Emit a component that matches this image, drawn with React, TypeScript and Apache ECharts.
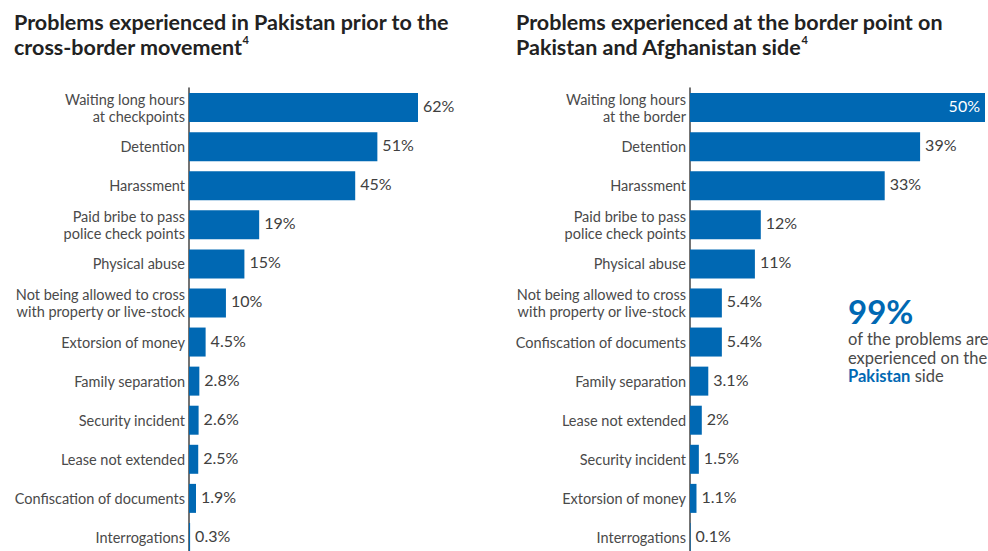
import React, { useEffect, useRef } from "react";
import * as echarts from "echarts";

const leftCategories = [
  "Waiting long hours\nat checkpoints",
  "Detention",
  "Harassment",
  "Paid bribe to pass\npolice check points",
  "Physical abuse",
  "Not being allowed to cross\nwith property or live-stock",
  "Extorsion of money",
  "Family separation",
  "Security incident",
  "Lease not extended",
  "Confiscation of documents",
  "Interrogations",
];
const leftValues = [62, 51, 45, 19, 15, 10, 4.5, 2.8, 2.6, 2.5, 1.9, 0.3];

const rightCategories = [
  "Waiting long hours\nat the border",
  "Detention",
  "Harassment",
  "Paid bribe to pass\npolice check points",
  "Physical abuse",
  "Not being allowed to cross\nwith property or live-stock",
  "Confiscation of documents",
  "Family separation",
  "Lease not extended",
  "Security incident",
  "Extorsion of money",
  "Interrogations",
];
const rightValues = [50, 39, 33, 12, 11, 5.4, 5.4, 3.1, 2, 1.5, 1.1, 0.1];

const leftTitle = "Problems experienced in Pakistan prior to the\ncross-border movement";
const rightTitle = "Problems experienced at the border point on\nPakistan and Afghanistan side";

const BLUE = "#0068b3";
const FONT = "Lato, 'Noto Sans', sans-serif";

export default function App() {
  const ref = useRef<HTMLDivElement>(null);
  useEffect(() => {
    document.body.style.margin = "0";
    document.body.style.overflow = "hidden";
    document.documentElement.style.overflow = "hidden";
    if (!ref.current) return;
    const chart = echarts.init(ref.current, null, { renderer: "svg" });
    const titleRich = {
      sup: { fontSize: 11, fontWeight: "bold", color: "#222", fontFamily: FONT, verticalAlign: "top", padding: [0, 0, 10, 0] },
    };
    const yAxisCommon = {
      type: "category",
      inverse: true,
      axisLine: { show: true, lineStyle: { color: "#444", width: 1.5 } },
      axisTick: { show: false },
      axisLabel: {
        color: "#4a4a4a",
        fontSize: 14.5,
        fontFamily: FONT,
        margin: 4,
        lineHeight: 17,
        padding: [0, 0, 5, 0],
      },
    };
    const xAxisCommon = {
      type: "value",
      min: 0,
      show: false,
      splitLine: { show: false },
    };
    const labelCommon = {
      show: true,
      position: "right",
      distance: 5,
      offset: [0, -2],
      color: "#404040",
      fontSize: 16,
      fontFamily: FONT,
      formatter: (p: any) => `${p.value}%`,
    };
    const titleStyle = {
      fontSize: 21.5,
      fontWeight: "bold",
      color: "#222",
      fontFamily: FONT,
      lineHeight: 25,
      rich: titleRich,
    };
    chart.setOption({
      animation: false,
      title: [
        { text: leftTitle + "{sup|4}", left: 9, top: 4, textStyle: titleStyle },
        { text: rightTitle + "{sup|4}", left: 511, top: 4, textStyle: titleStyle },
      ],
      grid: [
        { left: 189, top: 88, width: 229, height: 469 },
        { left: 690, top: 88, width: 295, height: 469 },
      ],
      xAxis: [
        { ...xAxisCommon, gridIndex: 0, max: 62 },
        { ...xAxisCommon, gridIndex: 1, max: 50 },
      ],
      yAxis: [
        { ...yAxisCommon, gridIndex: 0, data: leftCategories },
        { ...yAxisCommon, gridIndex: 1, data: rightCategories },
      ],
      series: [
        {
          type: "bar",
          xAxisIndex: 0,
          yAxisIndex: 0,
          data: leftValues,
          barWidth: 29,
          itemStyle: { color: BLUE },
          label: labelCommon,
        },
        {
          type: "bar",
          xAxisIndex: 1,
          yAxisIndex: 1,
          data: rightValues.map((v, i) =>
            i === 0 ? { value: v, label: { position: "insideRight", color: "#fff", distance: 5 } } : v
          ),
          barWidth: 29,
          itemStyle: { color: BLUE },
          label: labelCommon,
        },
      ],
      graphic: [
        {
          type: "text",
          left: 848,
          top: 294,
          style: { text: "99%", fill: BLUE, font: `bold 33px ${FONT}` },
        },
        {
          type: "text",
          left: 848,
          top: 330,
          style: {
            text: "of the problems are\nexperienced on the\n{b|Pakistan} side",
            fill: "#4a4a4a",
            font: `16.5px ${FONT}`,
            lineHeight: 18.5,
            rich: {
              b: { fill: BLUE, fontWeight: "bold", fontSize: 16.5, fontFamily: FONT, lineHeight: 18.5 },
            },
          },
        },
      ],
    });
    return () => chart.dispose();
  }, []);
  return <div ref={ref} style={{ width: 988, height: 558 }} />;
}
